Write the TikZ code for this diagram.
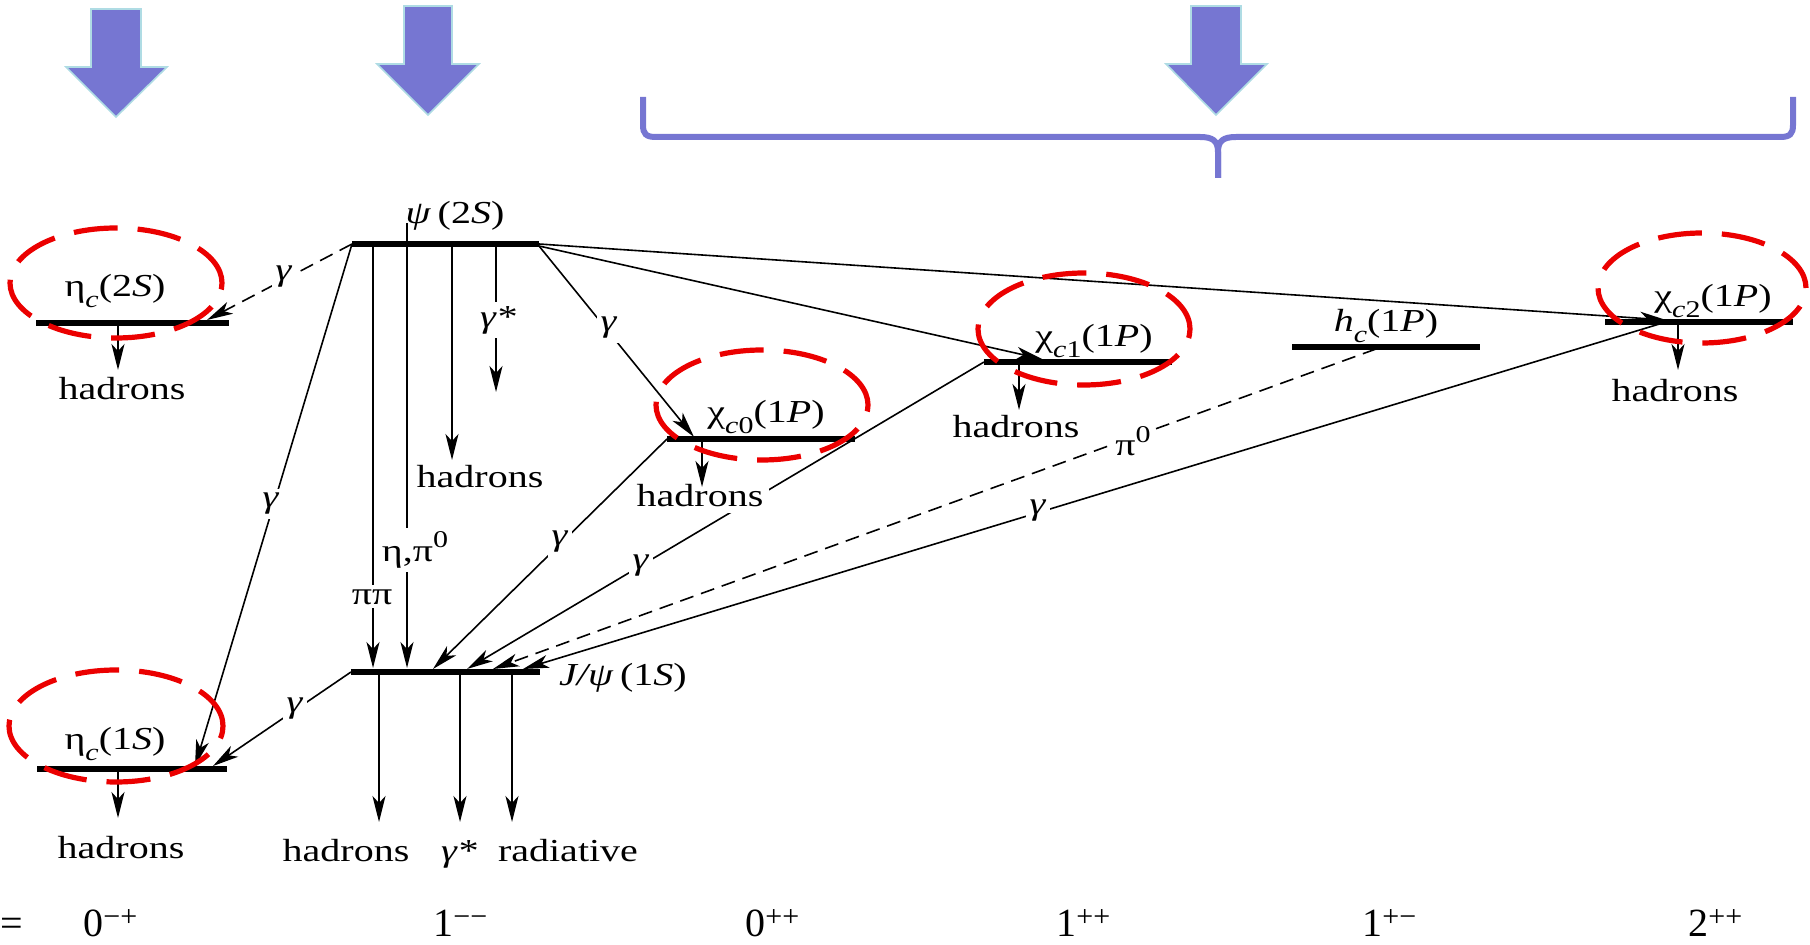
\documentclass[tikz,border=0pt]{standalone}
\usepackage{fontspec}
\setmainfont{Liberation Serif}
\usepackage{graphicx}
\usetikzlibrary{arrows.meta}
\definecolor{arrowblue}{RGB}{118,118,210}
\definecolor{arrowedge}{RGB}{175,220,228}
\definecolor{ellred}{RGB}{235,0,0}
\newcommand{\wx}[1]{\scalebox{1.25}[1]{#1}}
\newcommand{\lsub}[1]{\raisebox{-0.32em}{\fontsize{12}{12}\selectfont #1}}
\newcommand{\lsup}[1]{\raisebox{0.42em}{\fontsize{12}{12}\selectfont #1}}
\newcommand{\bsup}[1]{\raisebox{5pt}{\fontsize{15}{15}\selectfont #1}}
\newcommand{\lbfont}{\fontsize{16}{19}\selectfont}
\newcommand{\btfont}{\fontsize{20}{24}\selectfont}
\tikzset{
  lvl/.style={line width=2.8pt},
  tr/.style={line width=0.8pt, -{Stealth[length=13pt,width=6.5pt,inset=3.5pt]}},
  trd/.style={tr, dash pattern=on 7pt off 4pt},
  lab/.style={fill=white, inner sep=2pt, font=\lbfont},
  st/.style={inner sep=0pt, font=\lbfont, anchor=base},
  bt/.style={inner sep=0pt, font=\btfont, anchor=base west},
  ell/.style={draw=ellred, line width=2.6pt, dash pattern=on 22pt off 10pt},
  bigarrow/.style={fill=arrowblue, draw=arrowedge, line width=0.8pt},
  brace/.style={draw=arrowblue, line width=3pt}
}
\begin{document}
\begin{tikzpicture}[x=0.5pt, y=-0.5pt]
\useasboundingbox (0,0) rectangle (1810,945);

% ---------- blue arrows and brace ----------
\fill[bigarrow] (91,9) -- (141,9) -- (141,67) -- (167,67) -- (116,117) -- (66,67) -- (91,67) -- cycle;
\fill[bigarrow] (404,6) -- (452,6) -- (452,64) -- (479,64) -- (428,115) -- (377,64) -- (404,64) -- cycle;
\fill[bigarrow] (1191,6) -- (1241,6) -- (1241,64) -- (1267,64) -- (1216,115) -- (1166,64) -- (1191,64) -- cycle;
\coordinate (braceL) at (643,97);
\coordinate (braceM) at (1218,178);
\coordinate (braceR) at (1793,97);
\draw[brace] (braceL) -- (643,125) .. controls (643,134) and (646,137) .. (656,137) -- (1200,137)
  .. controls (1213,137) and (1218,141) .. (1218,152) -- (braceM);
\draw[brace] (braceM) -- (1218,152) .. controls (1218,141) and (1223,137) .. (1236,137) -- (1780,137)
  .. controls (1790,137) and (1793,134) .. (1793,125) -- (braceR);

% ---------- level bar end points ----------
\coordinate (e2A) at (36,323);   \coordinate (e2B) at (229,323);
\coordinate (psA) at (352,244);  \coordinate (psB) at (539,244);
\coordinate (c0A) at (667,439);  \coordinate (c0B) at (855,439);
\coordinate (c1A) at (984,362);  \coordinate (c1B) at (1172,362);
\coordinate (hcA) at (1292,347); \coordinate (hcB) at (1480,347);
\coordinate (c2A) at (1605,322); \coordinate (c2B) at (1793,322);
\coordinate (jpA) at (351,672);  \coordinate (jpB) at (540,672);
\coordinate (e1A) at (37,769);   \coordinate (e1B) at (227,769);

% ---------- decay end points ----------
\coordinate (e2d) at (118,323);   \coordinate (e2t) at (118,370);
\coordinate (psd1) at (373,244);  \coordinate (psd1t) at (373,668);
\coordinate (psd2) at (407,223);  \coordinate (psd2t) at (407,668);
\coordinate (psd3) at (452,244);  \coordinate (psd3t) at (452,460);
\coordinate (psd4) at (496,244);  \coordinate (psd4t) at (496,392);
\coordinate (c0d) at (702,439);   \coordinate (c0t) at (702,487);
\coordinate (c1d) at (1019,362);  \coordinate (c1t) at (1019,410);
\coordinate (c2d) at (1678,322);  \coordinate (c2t) at (1678,370);
\coordinate (e1d) at (118,769);   \coordinate (e1t) at (118,818);
\coordinate (jd1) at (379,672);   \coordinate (jd1t) at (379,822);
\coordinate (jd2) at (460,672);   \coordinate (jd2t) at (460,822);
\coordinate (jd3) at (512,672);   \coordinate (jd3t) at (512,822);

% transition end points
\coordinate (psB1) at (539,246);
\coordinate (e2in) at (207,320);
\coordinate (e1inA) at (195,766);
\coordinate (e1inB) at (213,766);
\coordinate (c0in) at (694,437);
\coordinate (c1in) at (1042,359);
\coordinate (c2in) at (1666,320);
\coordinate (c2out) at (1666,322);
\coordinate (hcout) at (1376,349);
\coordinate (jin1) at (433,669);
\coordinate (jin2) at (467,669);
\coordinate (jin3) at (493,669);
\coordinate (jin4) at (523,669);

% ---------- transitions ----------
\draw[trd] (psA) -- (e2in);
\draw[tr] (psA) -- (e1inA);
\draw[tr] (jpA) -- (e1inB);
\draw[tr] (psB1) -- (c0in);
\draw[tr] (psB1) -- (c1in);
\draw[tr] (psB) -- (c2in);
\draw[tr] (c0A) -- (jin1);
\draw[tr] (c1A) -- (jin2);
\draw[trd] (hcout) -- (jin3);
\draw[tr] (c2out) -- (jin4);
\draw[tr] (psd1) -- (psd1t);
\draw[tr] (psd2) -- (psd2t);
\draw[tr] (psd3) -- (psd3t);
\draw[tr] (psd4) -- (psd4t);
\draw[tr] (e2d) -- (e2t);
\draw[tr] (c1d) -- (c1t);
\draw[tr] (c2d) -- (c2t);
\draw[tr] (e1d) -- (e1t);
\draw[tr] (jd1) -- (jd1t);
\draw[tr] (jd2) -- (jd2t);
\draw[tr] (jd3) -- (jd3t);

% ---------- transition labels ----------
\node[lab] (g1) at (284,277) {\wx{\textit{γ}}};
\node[lab] (g2) at (271,504) {\wx{\textit{γ}}};
\node[lab] (g3) at (295,709) {\wx{\textit{γ}}};
\node[lab] (g4) at (609,328) {\wx{\textit{γ}}};
\node[lab] (g5) at (560,542) {\wx{\textit{γ}}};
\node[lab] (g6) at (641,566) {\wx{\textit{γ}}};
\node[lab] (g7) at (1038,511) {\wx{\textit{γ}}};
\node[lab] (pi0) at (1133,441) {\wx{π\lsup{0}}};
\node[lab] (pipi) at (372,597) {\wx{ππ}};
\node[lab] (etapi) at (415,550) {\wx{η,π\lsup{0}}};
\node[lab] (gs1) at (498,320) {\wx{\textit{γ*}}};

% ---------- state labels ----------
\node[st] (le2) at (115,297) {\wx{η\lsub{\textit{c}}(2\textit{S})}};
\node[st] (lps) at (455,224) {\wx{\textit{ψ}\,(2\textit{S})}};
\node[st] (lc0) at (766,423) {\wx{χ\lsub{\textit{c}0}(1\textit{P})}};
\node[st] (lc1) at (1094,347) {\wx{χ\lsub{\textit{c}1}(1\textit{P})}};
\node[st, fill=white, inner sep=2pt] (lhc) at (1386,332) {\wx{\textit{h}\lsub{\textit{c}}(1\textit{P})}};
\node[st] (lc2) at (1713,307) {\wx{χ\lsub{\textit{c}2}(1\textit{P})}};
\node[st] (ljp) at (623,686) {\wx{\textit{J/ψ}\,(1\textit{S})}};
\node[st] (le1) at (115,750) {\wx{η\lsub{\textit{c}}(1\textit{S})}};

% ---------- decay products ----------
\node[st] (he2) at (122,400) {\wx{hadrons}};
\node[st] (hps) at (480,488) {\wx{hadrons}};
\node[st, fill=white, inner sep=3pt] (hc0) at (700,507) {\wx{hadrons}};
\draw[tr] (c0d) -- (c0t);
\node[st] (hc1) at (1016,438) {\wx{hadrons}};
\node[st] (hc2) at (1675,402) {\wx{hadrons}};
\node[st] (he1) at (121,858) {\wx{hadrons}};
\node[st] (hjp) at (346,862) {\wx{hadrons}};
\node[st] (gjp) at (459,862) {\wx{\textit{γ*}}};
\node[st] (rjp) at (568,862) {\wx{radiative}};

% ---------- level bars (on top of label backgrounds) ----------
\foreach \a/\b in {e2A/e2B, psA/psB, c0A/c0B, c1A/c1B, hcA/hcB, c2A/c2B, jpA/jpB, e1A/e1B}
  \draw[lvl] (\a) -- (\b);

% ---------- J^PC row ----------
\node[inner sep=0pt, font=\btfont, anchor=base west] (eqs) at (0,936) {=};
\node[bt] (q1) at (83,936) {0\bsup{−+}};
\node[bt] (q2) at (433,936) {1\bsup{−−}};
\node[bt] (q3) at (745,936) {0\bsup{++}};
\node[bt] (q4) at (1056,936) {1\bsup{++}};
\node[bt] (q5) at (1362,936) {1\bsup{+−}};
\node[bt] (q6) at (1688,936) {2\bsup{++}};

% ---------- red highlight ellipses ----------
\draw[ell] (116,283) ellipse [x radius=53pt, y radius=27.5pt];
\draw[ell] (762,405) ellipse [x radius=53pt, y radius=27.5pt];
\draw[ell] (1084,329) ellipse [x radius=53pt, y radius=28pt];
\draw[ell] (1702,288) ellipse [x radius=52pt, y radius=27.5pt];
\draw[ell] (116,726) ellipse [x radius=53.5pt, y radius=28pt];
\end{tikzpicture}
\end{document}
